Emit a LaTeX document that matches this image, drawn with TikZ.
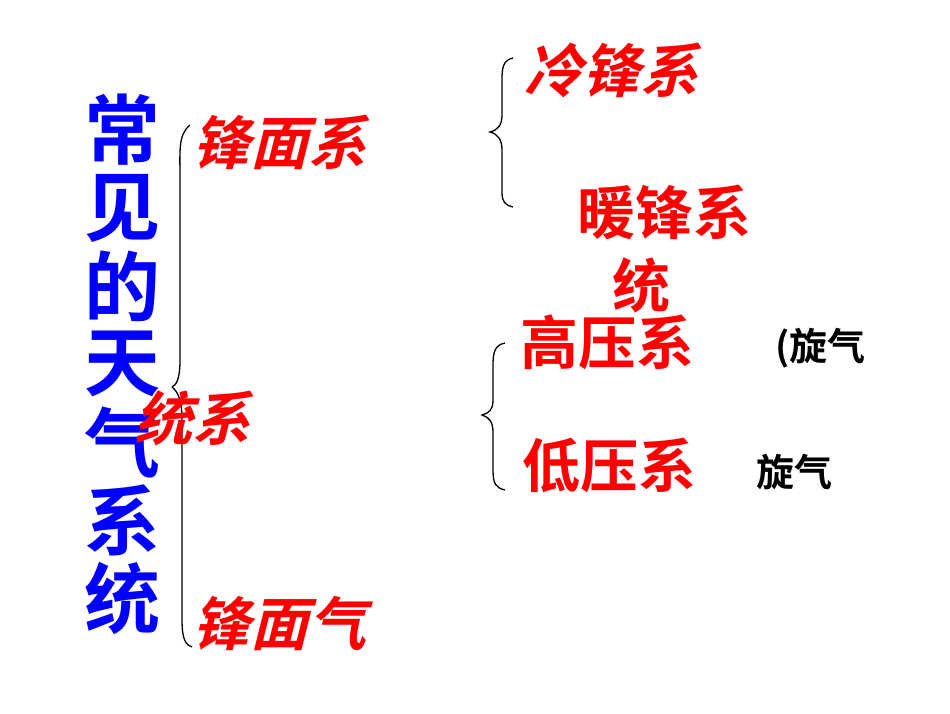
\documentclass[tikz,border=0pt]{standalone}
\usepackage{fontspec}
\newfontfamily\cjk{Noto Sans CJK SC}[BoldFont={Noto Sans CJK SC Bold}]
\begin{document}
\begin{tikzpicture}[x=1pt,y=-1pt,
  blue/.style={text=blue,font=\cjk\bfseries\fontsize{76}{76}\selectfont,inner sep=0},
  red/.style={text=red,font=\cjk\bfseries\fontsize{58}{58}\selectfont,inner sep=0,anchor=west},
  redit/.style={red,xslant=0.25},
  blk/.style={text=black,font=\cjk\bfseries\fontsize{38}{38}\selectfont,inner sep=0,anchor=west},
  br/.style={draw=black,line width=1.3pt}]
\useasboundingbox (0,0) rectangle (950,713);
\foreach \c [count=\i] in {常,见,的,天,气,系,统}
  \node[blue] (b\i) at (122,{52+78*\i}) {\c};
\draw[br] (190,125) coordinate (t1) .. controls (178,135) and (180,150) .. (180,180) -- (180,360) .. controls (180,380) and (176,385) .. (172,387) coordinate (t2);
\draw[br] (172,387) .. controls (178,392) and (182,400) .. (182,420) -- (182,620) .. controls (182,640) and (186,645) .. (192,647) coordinate (t3);
\draw[br] (513,58) .. controls (503,60) and (502,68) .. (502,80) -- (502,115) .. controls (502,125) and (498,130) .. (490,132) .. controls (498,134) and (502,140) .. (502,150) -- (502,192) .. controls (502,202) and (505,205) .. (513,207);
\draw[br] (505,343) .. controls (495,345) and (493,352) .. (493,365) -- (493,400) .. controls (493,410) and (489,413) .. (482,415) .. controls (489,417) and (493,422) .. (493,432) -- (493,470) .. controls (493,484) and (496,488) .. (505,490);
\node[redit] (f1) at (198,142) {锋面系};
\node[redit] (f2) at (140,418) {统系};
\node[redit] (f3) at (198,623) {锋面气};
\node[redit] (c1) at (530,70) {冷锋系};
\node[red] (c2) at (577,212) {暖锋系};
\node[red] (c3) at (612,285) {统};
\node[red] (h1) at (520,342) {高压系};
\node[red] (h2) at (522,466) {低压系};
\node[blk] (k1) at (775,348) {(旋气};
\node[blk] (k2) at (756,472) {旋气};
\end{tikzpicture}
\end{document}
